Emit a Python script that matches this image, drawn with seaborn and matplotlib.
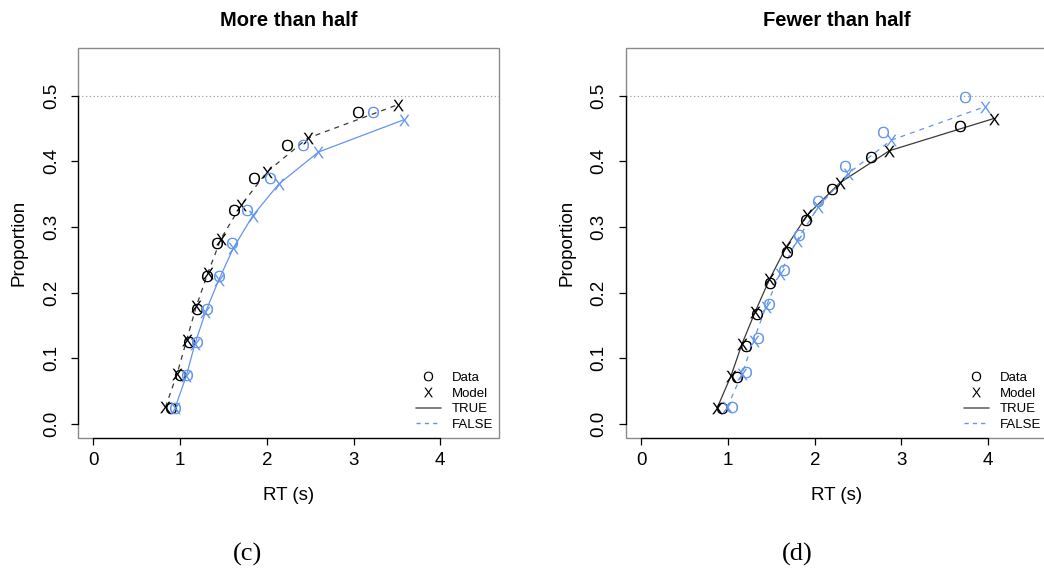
import matplotlib
matplotlib.use("Agg")
import matplotlib.pyplot as plt
from matplotlib.lines import Line2D
from matplotlib.patches import Rectangle
import seaborn as sns

# ---------------------------------------------------------------
# Defective cumulative RT quantiles (proportion of responses of a
# given type made by each RT quantile), data vs. model.
# ---------------------------------------------------------------

# Panel (c): "More than half"
c_data_true_rt = [0.89, 1.00, 1.10, 1.195, 1.31, 1.43, 1.615, 1.855, 2.235, 3.055]
c_data_true_p = [0.025, 0.075, 0.125, 0.175, 0.225, 0.275, 0.325, 0.375, 0.425, 0.475]
c_data_false_rt = [0.94, 1.08, 1.19, 1.307, 1.444, 1.597, 1.768, 2.037, 2.418, 3.225]
c_data_false_p = [0.025, 0.075, 0.125, 0.175, 0.225, 0.275, 0.325, 0.375, 0.425, 0.475]
c_model_true_rt = [0.83, 0.965, 1.075, 1.185, 1.32, 1.47, 1.703, 2.003, 2.47, 3.51]
c_model_true_p = [0.0256, 0.0768, 0.128, 0.179, 0.230, 0.282, 0.333, 0.384, 0.435, 0.486]
c_model_false_rt = [0.94, 1.07, 1.17, 1.291, 1.444, 1.614, 1.837, 2.135, 2.595, 3.578]
c_model_false_p = [0.0244, 0.073, 0.122, 0.170, 0.219, 0.268, 0.317, 0.365, 0.414, 0.463]

# Panel (d): "Fewer than half"
d_data_true_rt = [0.935, 1.10, 1.21, 1.338, 1.487, 1.678, 1.895, 2.20, 2.643, 3.678]
d_data_true_p = [0.0239, 0.0716, 0.119, 0.167, 0.215, 0.262, 0.310, 0.358, 0.406, 0.453]
d_data_false_rt = [1.04, 1.212, 1.34, 1.476, 1.649, 1.819, 2.042, 2.348, 2.785, 3.728]
d_data_false_p = [0.0262, 0.0785, 0.131, 0.183, 0.235, 0.288, 0.340, 0.392, 0.445, 0.497]
d_model_true_rt = [0.874, 1.034, 1.161, 1.313, 1.477, 1.669, 1.913, 2.288, 2.861, 4.065]
d_model_true_p = [0.0245, 0.0734, 0.122, 0.171, 0.220, 0.269, 0.318, 0.367, 0.416, 0.465]
d_model_false_rt = [0.989, 1.161, 1.294, 1.436, 1.600, 1.791, 2.039, 2.383, 2.881, 3.962]
d_model_false_p = [0.0254, 0.0762, 0.127, 0.178, 0.229, 0.279, 0.330, 0.381, 0.432, 0.483]

x_ticks = [0, 1, 2, 3, 4]
y_ticks = [0.0, 0.1, 0.2, 0.3, 0.4, 0.5]
y_tick_labels = ["0.0", "0.1", "0.2", "0.3", "0.4", "0.5"]
ref_level = 0.5

# ---------------------------------------------------------------
sns.set_style("white")
plt.rcParams["font.family"] = ["Liberation Sans", "DejaVu Sans"]
plt.rcParams["mathtext.fontset"] = "custom"
plt.rcParams["mathtext.rm"] = "Liberation Sans"
plt.rcParams["text.color"] = "black"
plt.rcParams["axes.labelcolor"] = "black"

BLUE = "#6495ED"
DARK = "#3a3a3a"
BOX = "#8a8a8a"
O_MARK = r"$\mathrm{O}$"
X_MARK = r"$\mathrm{X}$"
DASH = (0, (4, 4))

fig = plt.figure(figsize=(10.44, 5.74), dpi=100)
ax_c = fig.add_axes([0.0746, 0.2361, 0.4036, 0.6799])
ax_d = fig.add_axes([0.5994, 0.2361, 0.4036, 0.6799])


def draw_panel(ax, title, caption, cap_x,
               data_t_rt, data_t_p, data_f_rt, data_f_p,
               mod_t_rt, mod_t_p, mod_f_rt, mod_f_p,
               true_ls, false_ls):
    ax.axhline(ref_level, color="#a0a0a0", lw=0.9, ls=(0, (1, 2)), zorder=1)

    sns.lineplot(x=mod_t_rt, y=mod_t_p, ax=ax, color=DARK, lw=0.9,
                 linestyle=true_ls, sort=False, estimator=None, zorder=2)
    sns.lineplot(x=mod_f_rt, y=mod_f_p, ax=ax, color=BLUE, lw=0.9,
                 linestyle=false_ls, sort=False, estimator=None, zorder=2)

    sns.scatterplot(x=data_t_rt, y=data_t_p, ax=ax, marker=O_MARK, s=70,
                    color="black", linewidth=0, zorder=3)
    sns.scatterplot(x=mod_t_rt, y=mod_t_p, ax=ax, marker=X_MARK, s=70,
                    color="black", linewidth=0, zorder=3)
    sns.scatterplot(x=data_f_rt, y=data_f_p, ax=ax, marker=O_MARK, s=70,
                    color=BLUE, linewidth=0, zorder=3)
    sns.scatterplot(x=mod_f_rt, y=mod_f_p, ax=ax, marker=X_MARK, s=70,
                    color=BLUE, linewidth=0, zorder=3)

    # R-style ranges (4% padding around 0..4.5 and 0..0.55)
    ax.set_xlim(-0.18, 4.68)
    ax.set_ylim(-0.022, 0.572)

    # gray frame, black axis segments spanning the tick range
    for side in ["top", "right", "bottom", "left"]:
        ax.spines[side].set_visible(False)
    ax.add_patch(Rectangle((0, 0), 1, 1, transform=ax.transAxes, fill=False,
                           edgecolor=BOX, lw=1.0, clip_on=False, zorder=0))
    for side in ["bottom", "left"]:
        ax.spines[side].set_visible(True)
        ax.spines[side].set_color("black")
        ax.spines[side].set_linewidth(0.9)
    ax.spines["bottom"].set_bounds(x_ticks[0], x_ticks[-1])
    ax.spines["left"].set_bounds(y_ticks[0], y_ticks[-1])

    ax.set_xticks(x_ticks)
    ax.set_xticklabels([str(t) for t in x_ticks])
    ax.set_yticks(y_ticks)
    ax.set_yticklabels(y_tick_labels, va="center")
    ax.tick_params(axis="both", which="major", bottom=True, left=True,
                   top=False, right=False, direction="out", length=5,
                   width=0.9, color="black", labelsize=13.5,
                   labelcolor="black")
    ax.tick_params(axis="x", pad=5)
    ax.tick_params(axis="y", pad=8, labelrotation=90)

    ax.set_xlabel("RT (s)", fontsize=13.5, labelpad=13)
    ax.set_ylabel("Proportion", fontsize=13.5, labelpad=11)
    ax.set_title(title, fontsize=14.5, fontweight="bold", pad=16)
    ax.grid(False)

    handles = [
        Line2D([], [], ls="none", marker=O_MARK, color="black", ms=7, mew=0),
        Line2D([], [], ls="none", marker=X_MARK, color="black", ms=7, mew=0),
        Line2D([], [], color="#6a6a6a", lw=1.2),
        Line2D([], [], color=BLUE, lw=1.0, ls=(0, (3, 3))),
    ]
    ax.legend(handles, ["Data", "Model", "TRUE", "FALSE"], loc="lower right",
              bbox_to_anchor=(0.985, 0.02), frameon=False, fontsize=9.5,
              handlelength=1.9, handletextpad=0.8, labelspacing=0.25,
              borderpad=0, borderaxespad=0)

    fig.text(cap_x, 1 - 554 / 574, caption, family="Liberation Serif",
             fontsize=19, ha="center", va="center")


draw_panel(ax_c, "More than half", "(c)", 247 / 1044,
           c_data_true_rt, c_data_true_p, c_data_false_rt, c_data_false_p,
           c_model_true_rt, c_model_true_p, c_model_false_rt, c_model_false_p,
           true_ls=DASH, false_ls="-")
draw_panel(ax_d, "Fewer than half", "(d)", 797 / 1044,
           d_data_true_rt, d_data_true_p, d_data_false_rt, d_data_false_p,
           d_model_true_rt, d_model_true_p, d_model_false_rt, d_model_false_p,
           true_ls="-", false_ls=DASH)

fig.savefig("out.png", dpi=100)
